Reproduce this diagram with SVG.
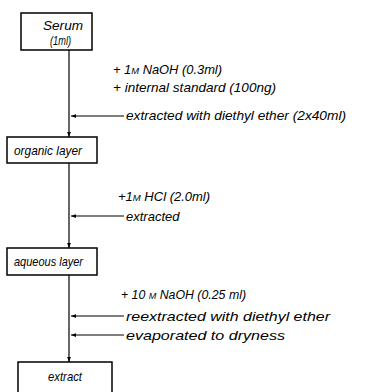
<svg xmlns="http://www.w3.org/2000/svg" width="374" height="392" viewBox="0 0 374 392">
<defs>
<marker id="ah" viewBox="0 0 8 6" refX="8" refY="3" markerWidth="5" markerHeight="4" orient="auto" markerUnits="userSpaceOnUse">
<path d="M0,0 L8,3 L0,6 z" fill="#000"/>
</marker>
</defs>
<style>
.box{fill:#fff;stroke:#000;stroke-width:1.5}
.ln{stroke:#000;stroke-width:1.2;fill:none}
.t{font-family:"Liberation Sans",Arial,sans-serif;font-style:italic;font-size:13px;fill:#000}
.sc{font-size:9.5px}
</style>
<rect width="374" height="392" fill="#fff"/>
<g id="connectors">
<line class="ln" x1="69" y1="50" x2="69" y2="137" marker-end="url(#ah)"/>
<line class="ln" x1="124" y1="116" x2="71" y2="116" marker-end="url(#ah)"/>
<line class="ln" x1="69" y1="163" x2="69" y2="248" marker-end="url(#ah)"/>
<line class="ln" x1="124" y1="216" x2="71" y2="216" marker-end="url(#ah)"/>
<line class="ln" x1="69" y1="275" x2="69" y2="362" marker-end="url(#ah)"/>
<line class="ln" x1="124" y1="316" x2="71" y2="316" marker-end="url(#ah)"/>
<line class="ln" x1="124" y1="335" x2="71" y2="335" marker-end="url(#ah)"/>
</g>
<g id="serum">
<rect class="box" x="21" y="13" width="71" height="37"/>
<text class="t" x="43" y="30" font-size="13.5" textLength="40" lengthAdjust="spacingAndGlyphs">Serum</text>
<text class="t" x="50" y="45" font-size="7" textLength="21" lengthAdjust="spacingAndGlyphs">(1ml)</text>
</g>
<g id="organic">
<rect class="box" x="7" y="137" width="90" height="26"/>
<text class="t" x="14" y="155" textLength="68" lengthAdjust="spacingAndGlyphs">organic layer</text>
</g>
<g id="aqueous">
<rect class="box" x="7" y="248" width="90" height="27"/>
<text class="t" x="14" y="266" textLength="69" lengthAdjust="spacingAndGlyphs">aqueous layer</text>
</g>
<g id="extract">
<rect class="box" x="18" y="362" width="94" height="34"/>
<text class="t" x="48" y="381" textLength="34" lengthAdjust="spacingAndGlyphs">extract</text>
</g>
<g id="labels">
<text class="t" x="113" y="74" textLength="109" lengthAdjust="spacingAndGlyphs">+ 1<tspan class="sc">M</tspan> NaOH (0.3ml)</text>
<text class="t" x="113" y="92" textLength="163" lengthAdjust="spacingAndGlyphs">+ internal standard (100ng)</text>
<text class="t" x="126" y="120" textLength="220" lengthAdjust="spacingAndGlyphs">extracted with diethyl ether (2x40ml)</text>
<text class="t" x="118" y="201" font-size="12">+1<tspan class="sc">M</tspan> HCl (2.0ml)</text>
<text class="t" x="126" y="221" font-size="12">extracted</text>
<text class="t" x="121" y="299" textLength="125" lengthAdjust="spacingAndGlyphs">+ 10 <tspan class="sc">M</tspan> NaOH (0.25 ml)</text>
<text class="t" x="126" y="321" textLength="204" lengthAdjust="spacingAndGlyphs">reextracted with diethyl ether</text>
<text class="t" x="126" y="340" textLength="159" lengthAdjust="spacingAndGlyphs">evaporated to dryness</text>
</g>
</svg>
